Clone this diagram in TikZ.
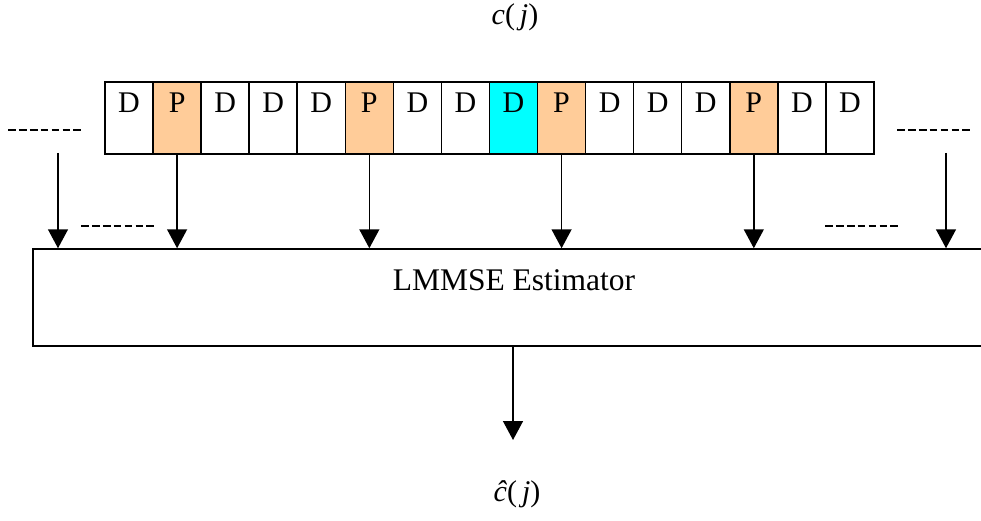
\documentclass[tikz,border=0pt]{standalone}
\usepackage{fontspec}
\setmainfont{Liberation Serif}
\usetikzlibrary{arrows.meta,calc}

\definecolor{pilotfill}{HTML}{FFCC99}
\definecolor{markfill}{HTML}{00FFFF}

\tikzset{
  line/.style={line width=1.5pt},
  cellbox/.style={draw, line/.try, line width=1.5pt, inner sep=0pt,
    minimum width=48.06pt, minimum height=72pt,
    text height=31pt, text depth=41pt, font=\fontsize{30}{30}\selectfont},
  pilot/.style={cellbox, fill=pilotfill},
  marked/.style={cellbox, fill=markfill},
  feed/.style={line width=1.5pt, -{Triangle[width=20pt,length=19pt]}},
  gapmark/.style={line width=2pt, dash pattern=on 7.7pt off 3.2pt},
  bigtext/.style={font=\fontsize{30}{30}\selectfont, inner sep=0pt}
}

\begin{document}
\begin{tikzpicture}[x=1pt,y=-1pt]
  \clip (0,0) rectangle (981,521);

  % input label
  \node[bigtext] (cin) at (515,17) {\textit{c}(\,\textit{j})};

  % frame of data (D) and pilot (P) symbols
  \foreach \i/\kind/\txt in {1/cellbox/D,2/pilot/P,3/cellbox/D,4/cellbox/D,
      5/cellbox/D,6/pilot/P,7/cellbox/D,8/cellbox/D,9/marked/D,10/pilot/P,
      11/cellbox/D,12/cellbox/D,13/cellbox/D,14/pilot/P,15/cellbox/D,16/cellbox/D}
    \node[\kind] (c\i) at ({105+48.06*(\i-0.5)},118) {\txt};

  % estimator block (runs past the right edge)
  \node[draw, line width=1.5pt, inner sep=0pt, minimum width=962pt,
    minimum height=97pt, text height=41pt, text depth=56pt,
    font=\fontsize{31.5}{31.5}\selectfont] (est) at (514,297.5) {LMMSE Estimator};

  % pilot inputs to the estimator
  \foreach \i in {2,6,10,14}
    \draw[feed] (c\i.south) -- (c\i.south |- est.north);

  % inputs from pilots outside the shown frame
  \coordinate (lin) at (58,153);
  \coordinate (rin) at (946,153);
  \draw[feed] (lin) -- (lin |- est.north);
  \draw[feed] (rin) -- (rin |- est.north);

  % continuation marks
  \draw[gapmark] (8,130) -- (82,130);
  \draw[gapmark] (81,226) -- (155,226);
  \draw[gapmark] (897,130) -- (971,130);
  \draw[gapmark] (825,226) -- (899,226);

  % estimator output
  \coordinate (outend) at (513,440);
  \draw[feed] (est.south -| outend) -- (outend);
  \node[bigtext] (cout) at (517,494) {\textit{ĉ}(\,\textit{j})};
\end{tikzpicture}
\end{document}
